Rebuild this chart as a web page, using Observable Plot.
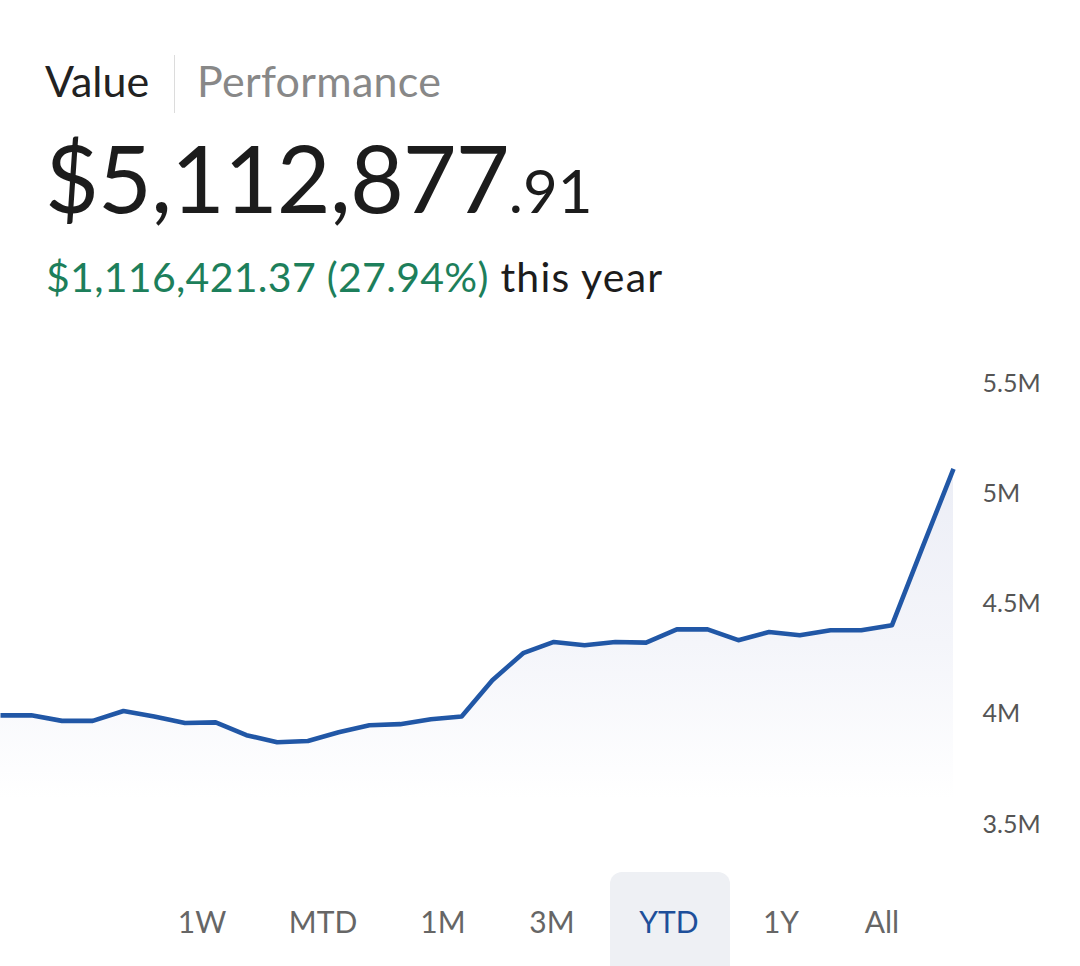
<!DOCTYPE html>
<html>
<head>
<meta charset="utf-8">
<script src="https://cdn.jsdelivr.net/npm/d3@7"></script>
<script src="https://cdn.jsdelivr.net/npm/@observablehq/plot@0.6"></script>
<style>
  html, body { margin: 0; padding: 0; background: #ffffff; }
  body { width: 1080px; height: 966px; position: relative; overflow: hidden; font-family: Lato, "Noto Sans", sans-serif; }
  .abs { position: absolute; white-space: nowrap; line-height: 1; }
  #tabValue { left: 45px; top: 59px; font-size: 43px; color: #222; }
  #divider { left: 174px; top: 55px; width: 1px; height: 58px; background: #dcdcdc; }
  #tabPerf { left: 197px; top: 59px; font-size: 43px; color: #888; letter-spacing: 0.3px; }
  #bigValue { left: 45px; top: 131px; font-size: 93px; color: #1c1c1c; letter-spacing: -1px; }
  #bigValue .cents { font-size: 60px; letter-spacing: 0; }
  #change { left: 46px; top: 256px; font-size: 41px; color: #1d7f5b; letter-spacing: 0.3px; }
  #change .rest { color: #1c1c1c; letter-spacing: 1.2px; }
  #chart { position: absolute; left: 0; top: 340px; }
  #selBg { left: 610px; top: 872px; width: 120px; height: 110px; border-radius: 12px; background: #eef0f4; }
  .btn { font-size: 30px; color: #666; transform: translateX(-50%); top: 906px; }
  .btn.active { color: #1e4f9a; }
</style>
</head>
<body>
<div id="tabValue" class="abs">Value</div>
<div id="divider" class="abs"></div>
<div id="tabPerf" class="abs">Performance</div>
<div id="bigValue" class="abs"></div>
<div id="change" class="abs"></div>
<div id="chart"></div>
<div id="selBg" class="abs"></div>
<div id="buttons"></div>
<script>
// ---- data ----
const totalValue = "$5,112,877";
const totalCents = ".91";
const changeText = "$1,116,421.37 (27.94%)";
const changeSuffix = " this year";

// portfolio value (millions of dollars), year-to-date samples
const periods = d3.range(32);
const valuesM = [3.995, 3.995, 3.97, 3.97, 4.015, 3.99, 3.96, 3.963, 3.905, 3.873,
                 3.879, 3.918, 3.95, 3.955, 3.977, 3.99, 4.154, 4.277, 4.328, 4.313,
                 4.328, 4.325, 4.385, 4.385, 4.336, 4.373, 4.358, 4.381, 4.381, 4.404,
                 4.76, 5.113];
const yTicks = [3.5e6, 4e6, 4.5e6, 5e6, 5.5e6];
const rangeLabels = ["1W", "MTD", "1M", "3M", "YTD", "1Y", "All"];
const activeRange = "YTD";

// ---- header ----
document.getElementById("bigValue").innerHTML = totalValue + '<span class="cents">' + totalCents + '</span>';
document.getElementById("change").innerHTML = changeText + '<span class="rest">' + changeSuffix + '</span>';

// ---- chart ----
const data = periods.map((p, i) => ({p, v: valuesM[i] * 1e6}));

const chart = Plot.plot({
  width: 1080,
  height: 520,
  marginTop: 43,
  marginBottom: 36,
  marginLeft: 0,
  marginRight: 127,
  style: {background: "transparent", fontFamily: "Lato, 'Noto Sans', sans-serif"},
  x: {domain: [0, 31], axis: null},
  y: {domain: [3.5e6, 5.5e6], axis: null},
  marks: [
    Plot.areaY(data, {x: "p", y1: 3.35e6, y2: "v", fill: "url(#areaFade)"}),
    Plot.axisY({
      anchor: "right",
      ticks: yTicks,
      tickSize: 0,
      tickPadding: 29,
      tickFormat: d => (d / 1e6) + "M",
      fontSize: 25,
      fill: "#555",
      textAnchor: "start",
      label: null
    }),
    Plot.line(data, {x: "p", y: "v", stroke: "#2157a6", strokeWidth: 4.6, strokeLinejoin: "round", strokeLinecap: "butt"})
  ]
});

const ns = "http://www.w3.org/2000/svg";
const defs = document.createElementNS(ns, "defs");
defs.innerHTML = '<linearGradient id="areaFade" x1="0" y1="0" x2="0" y2="1">' +
  '<stop offset="0" stop-color="#eceef6"/>' +
  '<stop offset="0.45" stop-color="#f4f5fa"/>' +
  '<stop offset="0.85" stop-color="#ffffff"/>' +
  '<stop offset="1" stop-color="#ffffff"/></linearGradient>';
chart.insertBefore(defs, chart.firstChild);
document.getElementById("chart").appendChild(chart);

// ---- range buttons ----
const btnCenters = {"1W": 202, "MTD": 323, "1M": 443, "3M": 552, "YTD": 669, "1Y": 781, "All": 882};
const btnWrap = document.getElementById("buttons");
rangeLabels.forEach(l => {
  const d = document.createElement("div");
  d.className = "abs btn" + (l === activeRange ? " active" : "");
  d.style.left = btnCenters[l] + "px";
  d.textContent = l;
  btnWrap.appendChild(d);
});
</script>
</body>
</html>
